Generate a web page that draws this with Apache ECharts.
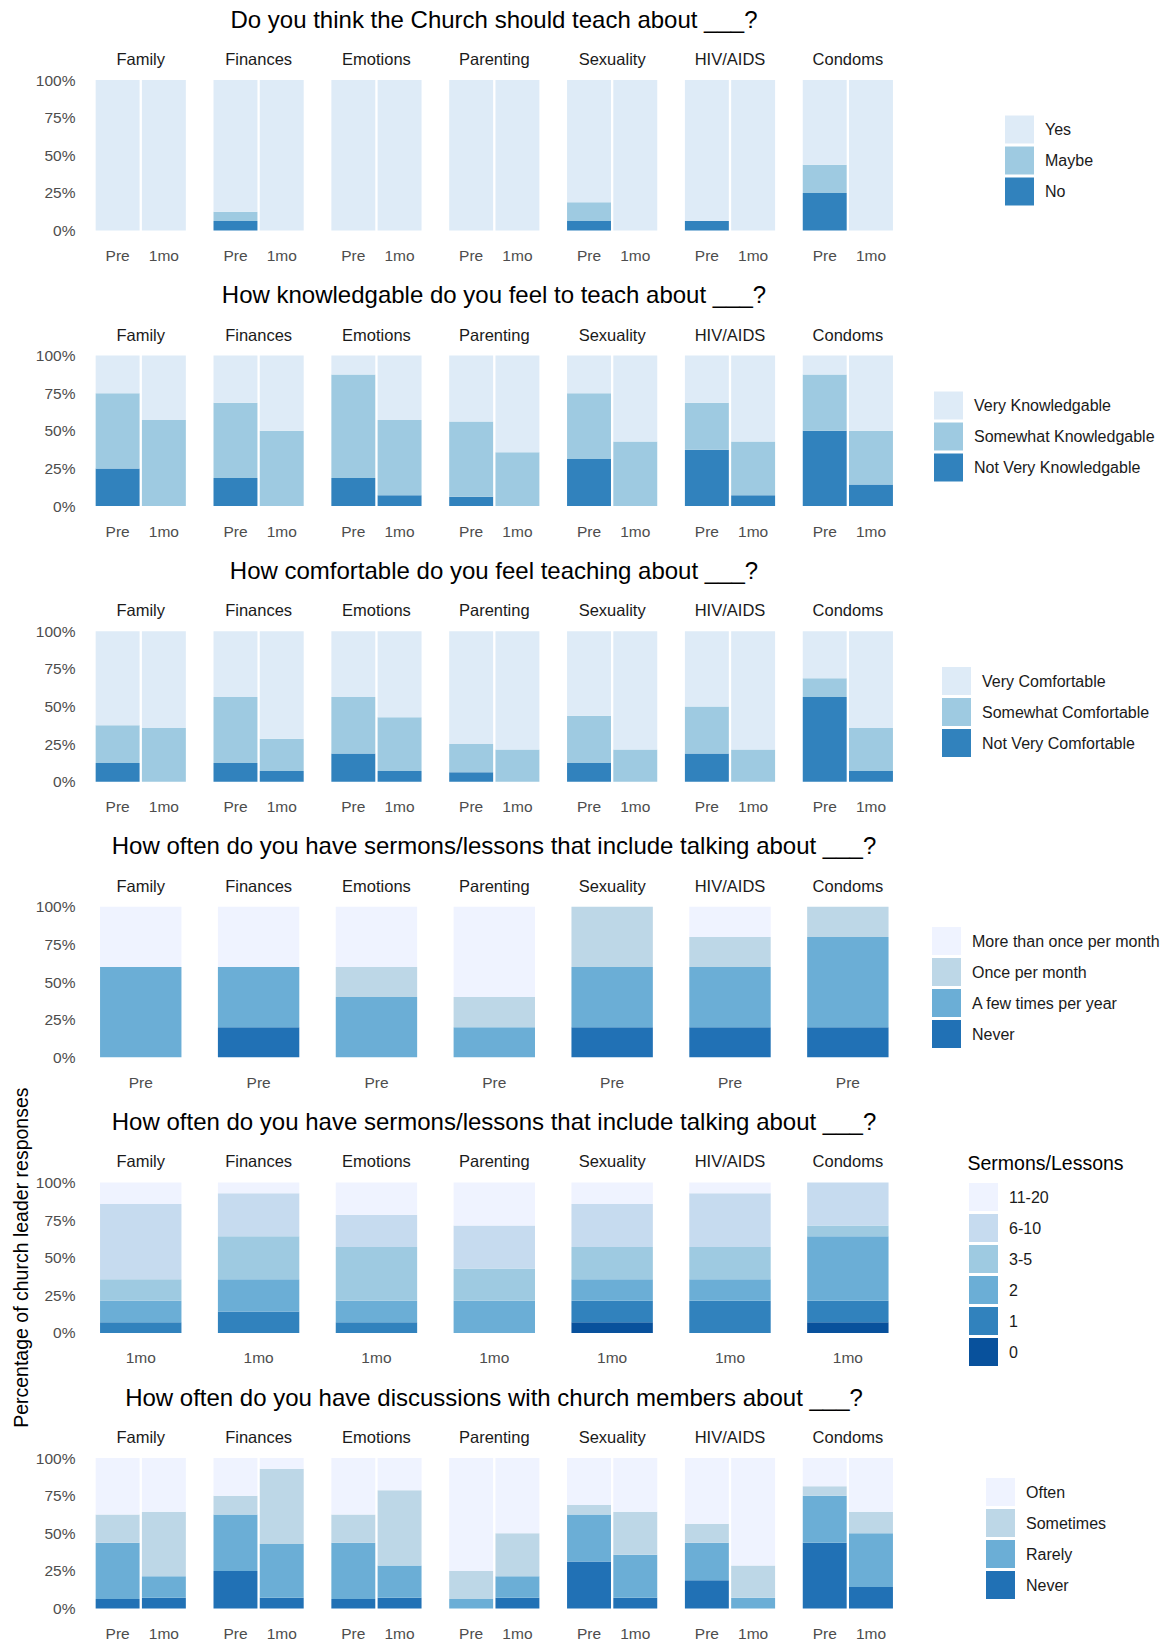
<!DOCTYPE html>
<html><head><meta charset="utf-8">
<script src="https://cdn.jsdelivr.net/npm/echarts@6/dist/echarts.min.js"></script>
<style>html,body{margin:0;padding:0;background:#fff}#c{width:1170px;height:1643px}</style>
</head><body><div id="c"></div>
<script>
// ---------- categories / labels ----------
const topics = ['Family','Finances','Emotions','Parenting','Sexuality','HIV/AIDS','Condoms'];
const panelTitles = [
  'Do you think the Church should teach about ___?',
  'How knowledgable do you feel to teach about ___?',
  'How comfortable do you feel teaching about ___?',
  'How often do you have sermons/lessons that include talking about ___?',
  'How often do you have sermons/lessons that include talking about ___?',
  'How often do you have discussions with church members about ___?'
];
const yAxisTitle = 'Percentage of church leader responses';
const yTickValues = [0, 25, 50, 75, 100];

// ---------- Panel 1: should teach ----------
const teachLevels = ['No','Maybe','Yes'];
const teachNoPre     = [0, 6.25, 0, 0, 6.25, 6.25, 25];
const teachMaybePre  = [0, 6.25, 0, 0, 12.5, 0, 18.75];
const teachYesPre    = [100, 87.5, 100, 100, 81.25, 93.75, 56.25];
const teachNo1mo     = [0, 0, 0, 0, 0, 0, 0];
const teachMaybe1mo  = [0, 0, 0, 0, 0, 0, 0];
const teachYes1mo    = [100, 100, 100, 100, 100, 100, 100];

// ---------- Panel 2: knowledgable ----------
const knowLevels = ['Not Very Knowledgable','Somewhat Knowledgable','Very Knowledgable'];
const knowNotPre      = [25, 18.75, 18.75, 6.25, 31.25, 37.5, 50];
const knowSomewhatPre = [50, 50, 68.75, 50, 43.75, 31.25, 37.5];
const knowVeryPre     = [25, 31.25, 12.5, 43.75, 25, 31.25, 12.5];
const knowNot1mo      = [0, 0, 7.14, 0, 0, 7.14, 14.29];
const knowSomewhat1mo = [57.14, 50, 50, 35.71, 42.86, 35.71, 35.71];
const knowVery1mo     = [42.86, 50, 42.86, 64.29, 57.14, 57.14, 50];

// ---------- Panel 3: comfortable ----------
const comfLevels = ['Not Very Comfortable','Somewhat Comfortable','Very Comfortable'];
const comfNotPre      = [12.5, 12.5, 18.75, 6.25, 12.5, 18.75, 56.25];
const comfSomewhatPre = [25, 43.75, 37.5, 18.75, 31.25, 31.25, 12.5];
const comfVeryPre     = [62.5, 43.75, 43.75, 75, 56.25, 50, 31.25];
const comfNot1mo      = [0, 7.14, 7.14, 0, 0, 0, 7.14];
const comfSomewhat1mo = [35.71, 21.43, 35.71, 21.43, 21.43, 21.43, 28.57];
const comfVery1mo     = [64.29, 71.43, 57.14, 78.57, 78.57, 78.57, 64.29];

// ---------- Panel 4: sermons (Pre) ----------
const freqLevels = ['Never','A few times per year','Once per month','More than once per month'];
const freqNeverPre = [0, 20, 0, 0, 20, 20, 20];
const freqFewPre   = [60, 40, 40, 20, 40, 40, 60];
const freqOncePre  = [0, 0, 20, 20, 40, 20, 20];
const freqMorePre  = [40, 40, 40, 60, 0, 20, 0];

// ---------- Panel 5: sermons/lessons count (1mo) ----------
const countLevels = ['0','1','2','3-5','6-10','11-20'];
const count0_1mo    = [0, 0, 0, 0, 7.14, 0, 7.14];
const count1_1mo    = [7.14, 14.29, 7.14, 0, 14.29, 21.43, 14.29];
const count2_1mo    = [14.29, 21.43, 14.29, 21.43, 14.29, 14.29, 42.86];
const count3to5_1mo = [14.29, 28.57, 35.71, 21.43, 21.43, 21.43, 7.14];
const count6to10_1mo= [50, 28.57, 21.43, 28.57, 28.57, 35.71, 28.57];
const count11to20_1mo=[14.29, 7.14, 21.43, 28.57, 14.29, 7.14, 0];

// ---------- Panel 6: discussions ----------
const discLevels = ['Never','Rarely','Sometimes','Often'];
const discNeverPre     = [6.25, 25, 6.25, 0, 31.25, 18.75, 43.75];
const discRarelyPre    = [37.5, 37.5, 37.5, 6.25, 31.25, 25, 31.25];
const discSometimesPre = [18.75, 12.5, 18.75, 18.75, 6.25, 12.5, 6.25];
const discOftenPre     = [37.5, 25, 37.5, 75, 31.25, 43.75, 18.75];
const discNever1mo     = [7.14, 7.14, 7.14, 7.14, 7.14, 0, 14.29];
const discRarely1mo    = [14.29, 35.71, 21.43, 14.29, 28.57, 7.14, 35.71];
const discSometimes1mo = [42.86, 50, 50, 28.57, 28.57, 21.43, 14.29];
const discOften1mo     = [35.71, 7.14, 21.43, 50, 35.71, 71.43, 35.71];

// ---------- styling ----------
const FONT = '"Liberation Sans", Arial, sans-serif';
const blues3 = ['#3182bd','#9ecae1','#deebf7'];
const blues4 = ['#2171b5','#6baed6','#bdd7e7','#eff3ff'];
const blues6 = ['#08519c','#3182bd','#6baed6','#9ecae1','#c6dbef','#eff3ff'];

const panels = [
  {levels: teachLevels, colors: blues3, periods: ['Pre','1mo'],
   values: [[teachNoPre, teachNo1mo],[teachMaybePre, teachMaybe1mo],[teachYesPre, teachYes1mo]],
   legendLeft: 1005, legendTop: 115.5},
  {levels: knowLevels, colors: blues3, periods: ['Pre','1mo'],
   values: [[knowNotPre, knowNot1mo],[knowSomewhatPre, knowSomewhat1mo],[knowVeryPre, knowVery1mo]],
   legendLeft: 934, legendTop: 391.5},
  {levels: comfLevels, colors: blues3, periods: ['Pre','1mo'],
   values: [[comfNotPre, comfNot1mo],[comfSomewhatPre, comfSomewhat1mo],[comfVeryPre, comfVery1mo]],
   legendLeft: 942, legendTop: 667},
  {levels: freqLevels, colors: blues4, periods: ['Pre'],
   values: [[freqNeverPre],[freqFewPre],[freqOncePre],[freqMorePre]],
   legendLeft: 932, legendTop: 927},
  {levels: countLevels, colors: blues6, periods: ['1mo'],
   values: [[count0_1mo],[count1_1mo],[count2_1mo],[count3to5_1mo],[count6to10_1mo],[count11to20_1mo]],
   legendLeft: 969, legendTop: 1183, legendTitle: 'Sermons/Lessons'},
  {levels: discLevels, colors: blues4, periods: ['Pre','1mo'],
   values: [[discNeverPre, discNever1mo],[discRarelyPre, discRarely1mo],[discSometimesPre, discSometimes1mo],[discOftenPre, discOften1mo]],
   legendLeft: 986, legendTop: 1478}
];

const facetLeft0 = 94.5, facetStep = 117.85, facetW = 92.5;
const panelTop0 = 80, panelStep = 275.6, panelH = 150.5;

const grids = [], xAxes = [], yAxes = [], series = [], graphics = [], legends = [];

panels.forEach((p, k) => {
  const top = panelTop0 + panelStep * k;
  graphics.push({type: 'text', x: 494, y: top - 61, silent: true,
    style: {text: panelTitles[k], align: 'center', verticalAlign: 'middle', fontSize: 24, fontFamily: FONT, fill: '#000'}});
  topics.forEach((t, j) => {
    const left = facetLeft0 + facetStep * j;
    const gi = grids.length;
    grids.push({left: left, top: top, width: facetW, height: panelH, containLabel: false, outerBoundsMode: 'none'});
    xAxes.push({type: 'category', gridIndex: gi, data: p.periods,
      axisLine: {show: false}, axisTick: {show: false}, splitLine: {show: false},
      axisLabel: {margin: 17, fontSize: 15.5, color: '#4d4d4d', fontFamily: FONT}});
    yAxes.push({type: 'value', gridIndex: gi, min: yTickValues[0], max: yTickValues[yTickValues.length - 1], interval: 25,
      splitLine: {show: false}, axisLine: {show: false}, axisTick: {show: false},
      axisLabel: {show: j === 0, formatter: '{value}%', margin: 19, fontSize: 15.5, color: '#4d4d4d', fontFamily: FONT}});
    graphics.push({type: 'text', x: left + facetW / 2, y: top - 21, silent: true,
      style: {text: t, align: 'center', verticalAlign: 'middle', fontSize: 16.5, fontFamily: FONT, fill: '#1a1a1a'}});
    p.levels.forEach((lv, i) => {
      series.push({type: 'bar', name: lv, xAxisIndex: gi, yAxisIndex: gi, stack: 's' + gi,
        barWidth: p.periods.length === 2 ? '95%' : '88%',
        itemStyle: {color: p.colors[i]}, silent: true,
        data: p.values[i].map(arr => arr[j])});
    });
  });
  legends.push({orient: 'vertical', left: p.legendLeft, top: p.legendTop, padding: 0,
    itemWidth: 29, itemHeight: 28, itemGap: 3, icon: 'rect', selectedMode: false,
    data: p.levels.map((lv, i) => ({name: lv, itemStyle: {color: p.colors[i]}})).reverse(),
    textStyle: {fontSize: 16, color: '#1a1a1a', fontFamily: FONT, padding: [0, 0, 0, 6]}});
  if (p.legendTitle) {
    graphics.push({type: 'text', x: 967.5, y: top - 19, silent: true,
      style: {text: p.legendTitle, align: 'left', verticalAlign: 'middle', fontSize: 19.5, fontFamily: FONT, fill: '#000'}});
  }
});

graphics.push({type: 'text', x: 21, y: panelTop0 + panelStep * 4 + panelH / 2, rotation: Math.PI / 2, silent: true,
  style: {text: yAxisTitle, align: 'center', verticalAlign: 'middle', fontSize: 19.5, fontFamily: FONT, fill: '#000'}});

const chart = echarts.init(document.getElementById('c'), null, {renderer: 'svg'});
chart.setOption({
  animation: false,
  backgroundColor: '#fff',
  grid: grids, xAxis: xAxes, yAxis: yAxes, series: series,
  legend: legends, graphic: graphics
});
</script>
</body></html>
